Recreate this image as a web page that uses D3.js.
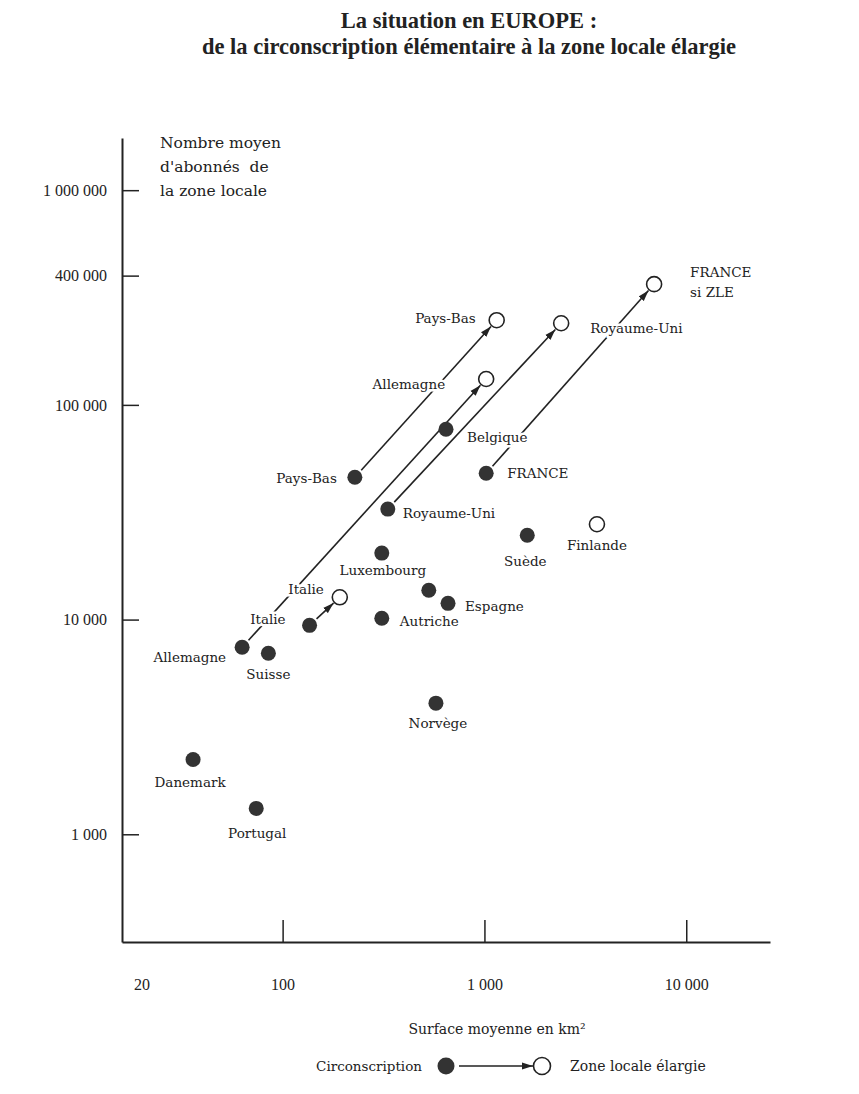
<!DOCTYPE html>
<html>
<head>
<meta charset="utf-8">
<script src="https://d3js.org/d3.v7.min.js"></script>
<style>
body { margin: 0; background: #fff; }
text { fill: #222; }
</style>
</head>
<body>
<svg id="chart" width="859" height="1094"></svg>
<script>
// circonscriptions (points pleins)
var circNames = ["Danemark", "Portugal", "Allemagne", "Suisse", "Italie", "Pays-Bas", "Royaume-Uni",
	"Luxembourg", "Autriche", "", "Espagne", "Norvège", "Belgique", "FRANCE", "Suède"];
var circSurface = [36, 74, 63, 85, 136, 228, 332, 310, 310, 530, 660, 575, 645, 1020, 1630];
var circAbonnes = [2230, 1320, 7430, 6970, 9400, 46000, 32700, 20400, 10150, 13700, 11900, 4080, 77000, 48000, 24700];

// zones locales élargies (cercles vides)
var zleNames = ["Italie", "Pays-Bas", "Allemagne", "Royaume-Uni", "FRANCE\nsi ZLE", "Finlande"];
var zleSurface = [192, 1150, 1020, 2400, 6930, 3610];
var zleAbonnes = [12700, 248000, 132000, 240000, 365000, 27800];

// fleches circonscription -> zone locale élargie (index dans les deux listes)
var arrowFrom = [4, 5, 2, 6, 13];
var arrowTo = [0, 1, 2, 3, 4];

var xTicks = [20, 100, 1000, 10000];
var yTicks = [1000, 10000, 100000, 400000, 1000000];

// placement des étiquettes : [ancre, dx, dy]
var circLabelPos = [["middle", -3, 22], ["middle", 1, 25], ["end", -16, 10], ["middle", 0, 21],
	["end", -24, -6], ["end", -18, 1], ["start", 15, 4], ["middle", 1, 17], ["start", 18, 3],
	["start", 0, 0], ["start", 17, 3], ["middle", 2, 20], ["start", 21, 8], ["start", 21, 0], ["middle", -2, 26]];
var zleLabelPos = [["end", -16, -8], ["end", -21, -2], ["end", -41, 5], ["start", 29, 5],
	["start", 36, -12], ["middle", 0, 21]];

var svg = d3.select("#chart");
var serif = "'DejaVu Serif', serif";
var times = "'Liberation Serif', serif";

var x = d3.scaleLog().domain([16, 26000]).range([122, 770]);
var y = d3.scaleLog().domain([315, 1750000]).range([942, 138]);

var fr = d3.formatLocale({decimal: ",", thousands: " ", grouping: [3], currency: ["", " €"]});
var fmt = fr.format(",d");

// titre
var title = svg.append("text").attr("text-anchor", "middle").style("font-family", times)
	.style("font-weight", "bold").style("font-size", "22.5px");
title.append("tspan").attr("x", 469).attr("y", 28).text("La situation en EUROPE :");
title.append("tspan").attr("x", 469).attr("y", 54).text("de la circonscription élémentaire à la zone locale élargie");

// axes
var yAxis = d3.axisLeft(y).tickValues(yTicks).tickFormat(fmt).tickSizeInner(-17).tickSizeOuter(0).tickPadding(15);
var gy = svg.append("g").attr("transform", "translate(122,0)").call(yAxis);
var xAxis = d3.axisBottom(x).tickValues(xTicks).tickFormat(fmt).tickSizeInner(-22).tickSizeOuter(0).tickPadding(37);
var gx = svg.append("g").attr("transform", "translate(0,942)").call(xAxis);

[gx, gy].forEach(function(g) {
	g.select(".domain").attr("stroke", "#222").attr("stroke-width", 2);
	g.selectAll(".tick line").attr("stroke", "#222").attr("stroke-width", 1.5);
	g.selectAll(".tick text").attr("fill", "#222").style("font-family", times).style("font-size", "16px");
});
gx.selectAll(".tick").filter(function(d) { return d == 20; }).select("line").remove();

var yTitle = svg.append("text").style("font-family", serif).style("font-size", "15.5px");
["Nombre moyen", "d'abonnés  de", "la zone locale"].forEach(function(s, i) {
	yTitle.append("tspan").attr("x", 160).attr("y", 148 + i * 24).attr("xml:space", "preserve").text(s);
});
svg.append("text").attr("x", 497).attr("y", 1034).attr("text-anchor", "middle")
	.style("font-family", serif).style("font-size", "14px").text("Surface moyenne en km²");

// pointe de fleche
svg.append("defs").append("marker").attr("id", "arrow")
	.attr("markerUnits", "userSpaceOnUse").attr("markerWidth", 12).attr("markerHeight", 8)
	.attr("refX", 11).attr("refY", 4).attr("orient", "auto")
	.append("path").attr("d", "M0,0.5 L11,4 L0,7.5 Z").attr("fill", "#222");

var r = 7.5;
function segment(x1, y1, x2, y2, r1, r2) {
	var dx = x2 - x1, dy = y2 - y1, len = Math.sqrt(dx * dx + dy * dy);
	return [x1 + dx / len * r1, y1 + dy / len * r1, x2 - dx / len * r2, y2 - dy / len * r2];
}

var arrows = arrowFrom.map(function(f, i) {
	var t = arrowTo[i];
	return segment(x(circSurface[f]), y(circAbonnes[f]), x(zleSurface[t]), y(zleAbonnes[t]), r + 2, r + 1);
});
svg.append("g").selectAll("line").data(arrows).enter().append("line")
	.attr("x1", function(d) { return d[0]; }).attr("y1", function(d) { return d[1]; })
	.attr("x2", function(d) { return d[2]; }).attr("y2", function(d) { return d[3]; })
	.attr("stroke", "#222").attr("stroke-width", 1.6).attr("marker-end", "url(#arrow)");

svg.append("g").selectAll("circle").data(circNames).enter().append("circle")
	.attr("cx", function(d, i) { return x(circSurface[i]); })
	.attr("cy", function(d, i) { return y(circAbonnes[i]); })
	.attr("r", r).attr("fill", "#333");

svg.append("g").selectAll("circle").data(zleNames).enter().append("circle")
	.attr("cx", function(d, i) { return x(zleSurface[i]); })
	.attr("cy", function(d, i) { return y(zleAbonnes[i]); })
	.attr("r", r).attr("fill", "#fff").attr("stroke", "#222").attr("stroke-width", 1.6);

// étiquettes avec un halo blanc qui coupe les fleches
function labels(names, xs, ys, pos) {
	names.forEach(function(name, i) {
		if (name == "") return;
		var px = x(xs[i]) + pos[i][1], py = y(ys[i]) + pos[i][2];
		var t = svg.append("text").attr("text-anchor", pos[i][0])
			.style("font-family", serif).style("font-size", "13.5px")
			.attr("stroke", "#fff").attr("stroke-width", 5).attr("paint-order", "stroke");
		name.split("\n").forEach(function(s, k) {
			t.append("tspan").attr("x", px).attr("y", py + 5 + k * 20).text(s);
		});
	});
}
labels(circNames, circSurface, circAbonnes, circLabelPos);
labels(zleNames, zleSurface, zleAbonnes, zleLabelPos);

// légende
var ly = 1066;
svg.append("text").attr("x", 422).attr("y", ly + 5).attr("text-anchor", "end")
	.style("font-family", serif).style("font-size", "13.5px").text("Circonscription");
svg.append("circle").attr("cx", 446).attr("cy", ly).attr("r", r + 1).attr("fill", "#333");
svg.append("line").attr("x1", 459).attr("y1", ly).attr("x2", 533).attr("y2", ly)
	.attr("stroke", "#222").attr("stroke-width", 1.6).attr("marker-end", "url(#arrow)");
svg.append("circle").attr("cx", 542).attr("cy", ly).attr("r", r + 1)
	.attr("fill", "#fff").attr("stroke", "#222").attr("stroke-width", 1.6);
svg.append("text").attr("x", 570).attr("y", ly + 5)
	.style("font-family", serif).style("font-size", "14px").text("Zone locale élargie");
</script>
</body>
</html>
